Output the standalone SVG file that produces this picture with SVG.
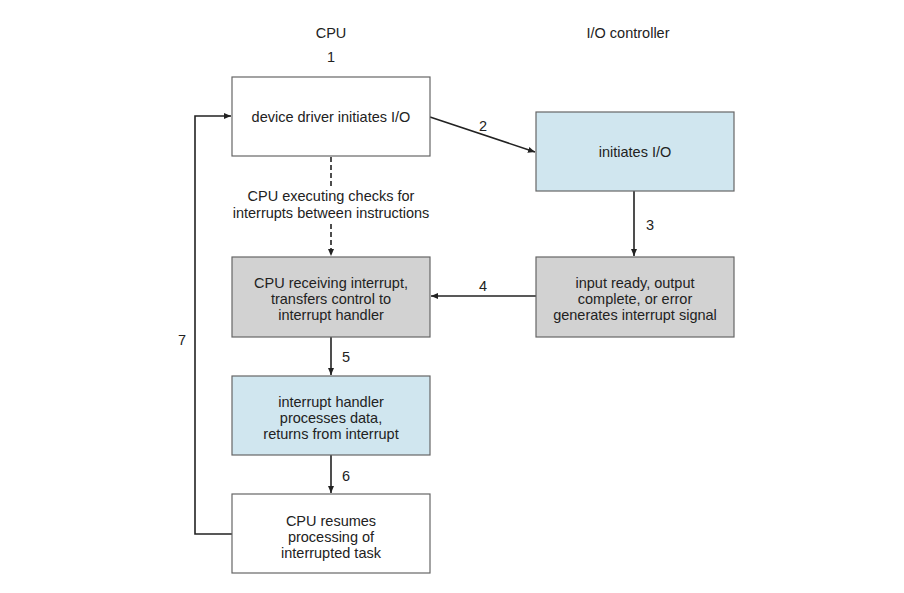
<svg xmlns="http://www.w3.org/2000/svg" width="904" height="593" viewBox="0 0 904 593">
<defs>
<marker id="ah" markerWidth="8" markerHeight="8" refX="7" refY="4" orient="auto" markerUnits="userSpaceOnUse">
<path d="M0,1 L7,4 L0,7 Z" fill="#222"/>
</marker>
<style>
text{font-family:"Liberation Sans",Arial,sans-serif;font-size:14.5px;fill:#222;text-anchor:middle}
.box{stroke:#666;stroke-width:1.2}
.w{fill:#fff}.b{fill:#d0e6ef}.g{fill:#d2d2d2}
.c{fill:none;stroke:#222;stroke-width:1.6}
.d{fill:none;stroke:#222;stroke-width:1.6;stroke-dasharray:5,3}
</style>
</defs>
<rect width="904" height="593" fill="#fff"/>
<text x="331" y="38">CPU</text>
<text x="628" y="38">I/O controller</text>
<text x="331" y="62">1</text>
<g id="connectors">
<path class="c" d="M232,534 H195 V116 H231" marker-end="url(#ah)"/>
<path class="c" d="M430,117 L535,152" marker-end="url(#ah)"/>
<path class="c" d="M634,191 V256" marker-end="url(#ah)"/>
<path class="c" d="M536,296 H431" marker-end="url(#ah)"/>
<path class="c" d="M331,337 V375" marker-end="url(#ah)"/>
<path class="c" d="M331,455 V493" marker-end="url(#ah)"/>
<path class="d" d="M331,157 V186"/>
<path class="d" d="M331,224 V256" marker-end="url(#ah)"/>
<text x="483" y="131">2</text>
<text x="650" y="230">3</text>
<text x="483" y="291">4</text>
<text x="346" y="362">5</text>
<text x="346" y="481">6</text>
<text x="182" y="345">7</text>
<text x="331" y="201">CPU executing checks for</text>
<text x="331" y="218">interrupts between instructions</text>
</g>
<g id="n1"><rect class="box w" x="232" y="77" width="198" height="79"/><text x="331" y="122">device driver initiates I/O</text></g>
<g id="n2"><rect class="box b" x="536" y="112" width="198" height="79"/><text x="635" y="157">initiates I/O</text></g>
<g id="n3"><rect class="box g" x="536" y="257" width="198" height="80"/><text x="635" y="288">input ready, output</text><text x="635" y="304">complete, or error</text><text x="635" y="320">generates interrupt signal</text></g>
<g id="n4"><rect class="box g" x="232" y="257" width="198" height="80"/><text x="331" y="288">CPU receiving interrupt,</text><text x="331" y="304">transfers control to</text><text x="331" y="320">interrupt handler</text></g>
<g id="n5"><rect class="box b" x="232" y="376" width="198" height="79"/><text x="331" y="407">interrupt handler</text><text x="331" y="423">processes data,</text><text x="331" y="439">returns from interrupt</text></g>
<g id="n6"><rect class="box w" x="232" y="494" width="198" height="79"/><text x="331" y="526">CPU resumes</text><text x="331" y="542">processing of</text><text x="331" y="558">interrupted task</text></g>
</svg>
